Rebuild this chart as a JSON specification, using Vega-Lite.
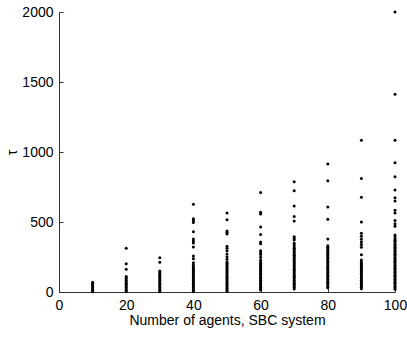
{
  "$schema": "https://vega.github.io/schema/vega-lite/v6.json",
  "width": 336,
  "height": 280,
  "autosize": "none",
  "padding": {"left": 59, "top": 12, "right": 12, "bottom": 45},
  "background": "white",
  "config": {
    "view": {"stroke": null},
    "font": "Liberation Sans",
    "axis": {
      "grid": false,
      "domainColor": "#333333",
      "tickColor": "#333333",
      "labelColor": "black",
      "titleColor": "black",
      "labelFontSize": 14,
      "titleFontSize": 14,
      "titleFontWeight": "normal",
      "labelFont": "Liberation Sans",
      "titleFont": "Liberation Sans",
      "tickSize": -4
    }
  },
  "data": {
    "values": [
      {"n":10,"t":2},{"n":10,"t":12},{"n":10,"t":22},{"n":10,"t":32},{"n":10,"t":42},{"n":10,"t":52},{"n":10,"t":62},{"n":10,"t":70},
      {"n":20,"t":2},{"n":20,"t":12},{"n":20,"t":22},{"n":20,"t":32},{"n":20,"t":42},{"n":20,"t":52},{"n":20,"t":62},{"n":20,"t":72},{"n":20,"t":82},{"n":20,"t":92},{"n":20,"t":102},{"n":20,"t":110},{"n":20,"t":163},{"n":20,"t":202},{"n":20,"t":312},
      {"n":30,"t":2},{"n":30,"t":12},{"n":30,"t":22},{"n":30,"t":32},{"n":30,"t":42},{"n":30,"t":52},{"n":30,"t":62},{"n":30,"t":72},{"n":30,"t":82},{"n":30,"t":92},{"n":30,"t":102},{"n":30,"t":112},{"n":30,"t":122},{"n":30,"t":132},{"n":30,"t":142},{"n":30,"t":150},{"n":30,"t":213},{"n":30,"t":244},
      {"n":40,"t":2},{"n":40,"t":12},{"n":40,"t":22},{"n":40,"t":32},{"n":40,"t":42},{"n":40,"t":52},{"n":40,"t":62},{"n":40,"t":72},{"n":40,"t":82},{"n":40,"t":92},{"n":40,"t":102},{"n":40,"t":112},{"n":40,"t":122},{"n":40,"t":132},{"n":40,"t":142},{"n":40,"t":152},{"n":40,"t":162},{"n":40,"t":172},{"n":40,"t":182},{"n":40,"t":192},{"n":40,"t":209},{"n":40,"t":238},{"n":40,"t":258},{"n":40,"t":322},{"n":40,"t":350},{"n":40,"t":364},{"n":40,"t":378},{"n":40,"t":430},{"n":40,"t":497},{"n":40,"t":510},{"n":40,"t":524},{"n":40,"t":626},
      {"n":50,"t":5},{"n":50,"t":15},{"n":50,"t":25},{"n":50,"t":35},{"n":50,"t":45},{"n":50,"t":55},{"n":50,"t":65},{"n":50,"t":75},{"n":50,"t":85},{"n":50,"t":95},{"n":50,"t":105},{"n":50,"t":115},{"n":50,"t":125},{"n":50,"t":135},{"n":50,"t":145},{"n":50,"t":155},{"n":50,"t":165},{"n":50,"t":175},{"n":50,"t":185},{"n":50,"t":195},{"n":50,"t":205},{"n":50,"t":214},{"n":50,"t":234},{"n":50,"t":252},{"n":50,"t":271},{"n":50,"t":295},{"n":50,"t":312},{"n":50,"t":326},{"n":50,"t":414},{"n":50,"t":426},{"n":50,"t":436},{"n":50,"t":516},{"n":50,"t":564},
      {"n":60,"t":14},{"n":60,"t":24},{"n":60,"t":34},{"n":60,"t":44},{"n":60,"t":54},{"n":60,"t":64},{"n":60,"t":74},{"n":60,"t":84},{"n":60,"t":94},{"n":60,"t":104},{"n":60,"t":114},{"n":60,"t":124},{"n":60,"t":134},{"n":60,"t":144},{"n":60,"t":154},{"n":60,"t":164},{"n":60,"t":174},{"n":60,"t":184},{"n":60,"t":194},{"n":60,"t":204},{"n":60,"t":214},{"n":60,"t":229},{"n":60,"t":248},{"n":60,"t":267},{"n":60,"t":281},{"n":60,"t":295},{"n":60,"t":345},{"n":60,"t":357},{"n":60,"t":410},{"n":60,"t":465},{"n":60,"t":557},{"n":60,"t":569},{"n":60,"t":710},
      {"n":70,"t":22},{"n":70,"t":32},{"n":70,"t":42},{"n":70,"t":52},{"n":70,"t":62},{"n":70,"t":72},{"n":70,"t":82},{"n":70,"t":92},{"n":70,"t":102},{"n":70,"t":112},{"n":70,"t":122},{"n":70,"t":132},{"n":70,"t":142},{"n":70,"t":152},{"n":70,"t":162},{"n":70,"t":172},{"n":70,"t":182},{"n":70,"t":192},{"n":70,"t":202},{"n":70,"t":212},{"n":70,"t":222},{"n":70,"t":232},{"n":70,"t":242},{"n":70,"t":252},{"n":70,"t":262},{"n":70,"t":272},{"n":70,"t":282},{"n":70,"t":292},{"n":70,"t":302},{"n":70,"t":312},{"n":70,"t":322},{"n":70,"t":336},{"n":70,"t":348},{"n":70,"t":371},{"n":70,"t":383},{"n":70,"t":395},{"n":70,"t":507},{"n":70,"t":540},{"n":70,"t":614},{"n":70,"t":724},{"n":70,"t":788},
      {"n":80,"t":30},{"n":80,"t":40},{"n":80,"t":50},{"n":80,"t":60},{"n":80,"t":70},{"n":80,"t":80},{"n":80,"t":90},{"n":80,"t":100},{"n":80,"t":110},{"n":80,"t":120},{"n":80,"t":130},{"n":80,"t":140},{"n":80,"t":150},{"n":80,"t":160},{"n":80,"t":170},{"n":80,"t":180},{"n":80,"t":190},{"n":80,"t":200},{"n":80,"t":210},{"n":80,"t":220},{"n":80,"t":230},{"n":80,"t":240},{"n":80,"t":250},{"n":80,"t":260},{"n":80,"t":270},{"n":80,"t":280},{"n":80,"t":290},{"n":80,"t":300},{"n":80,"t":310},{"n":80,"t":320},{"n":80,"t":330},{"n":80,"t":379},{"n":80,"t":520},{"n":80,"t":608},{"n":80,"t":795},{"n":80,"t":914},
      {"n":90,"t":24},{"n":90,"t":34},{"n":90,"t":44},{"n":90,"t":54},{"n":90,"t":64},{"n":90,"t":74},{"n":90,"t":84},{"n":90,"t":94},{"n":90,"t":104},{"n":90,"t":114},{"n":90,"t":124},{"n":90,"t":134},{"n":90,"t":144},{"n":90,"t":154},{"n":90,"t":164},{"n":90,"t":174},{"n":90,"t":184},{"n":90,"t":194},{"n":90,"t":204},{"n":90,"t":214},{"n":90,"t":229},{"n":90,"t":266},{"n":90,"t":320},{"n":90,"t":340},{"n":90,"t":358},{"n":90,"t":376},{"n":90,"t":398},{"n":90,"t":419},{"n":90,"t":500},{"n":90,"t":677},{"n":90,"t":810},{"n":90,"t":1084},
      {"n":100,"t":20},{"n":100,"t":30},{"n":100,"t":40},{"n":100,"t":50},{"n":100,"t":60},{"n":100,"t":70},{"n":100,"t":80},{"n":100,"t":90},{"n":100,"t":100},{"n":100,"t":110},{"n":100,"t":120},{"n":100,"t":130},{"n":100,"t":140},{"n":100,"t":150},{"n":100,"t":160},{"n":100,"t":170},{"n":100,"t":180},{"n":100,"t":190},{"n":100,"t":200},{"n":100,"t":210},{"n":100,"t":220},{"n":100,"t":230},{"n":100,"t":240},{"n":100,"t":250},{"n":100,"t":260},{"n":100,"t":270},{"n":100,"t":280},{"n":100,"t":290},{"n":100,"t":300},{"n":100,"t":310},{"n":100,"t":320},{"n":100,"t":330},{"n":100,"t":340},{"n":100,"t":350},{"n":100,"t":360},{"n":100,"t":370},{"n":100,"t":380},{"n":100,"t":395},{"n":100,"t":407},{"n":100,"t":469},{"n":100,"t":488},{"n":100,"t":511},{"n":100,"t":564},{"n":100,"t":584},{"n":100,"t":650},{"n":100,"t":673},{"n":100,"t":729},{"n":100,"t":824},{"n":100,"t":924},{"n":100,"t":1084},{"n":100,"t":1412},{"n":100,"t":2000}
    ]
  },
  "mark": {"type": "point", "shape": "circle", "filled": true, "size": 9, "color": "black", "opacity": 1},
  "encoding": {
    "x": {
      "field": "n",
      "type": "quantitative",
      "scale": {"domain": [0, 100], "nice": false, "zero": true},
      "axis": {"values": [0, 20, 40, 60, 80, 100], "format": "d", "title": "Number of agents, SBC system", "labelPadding": 10, "titlePadding": 1, "labelFlush": false}
    },
    "y": {
      "field": "t",
      "type": "quantitative",
      "scale": {"domain": [0, 2000], "nice": false},
      "axis": {"values": [0, 500, 1000, 1500, 2000], "format": "d", "title": "τ", "labelPadding": 10, "titlePadding": 2, "labelFlush": false}
    }
  }
}
